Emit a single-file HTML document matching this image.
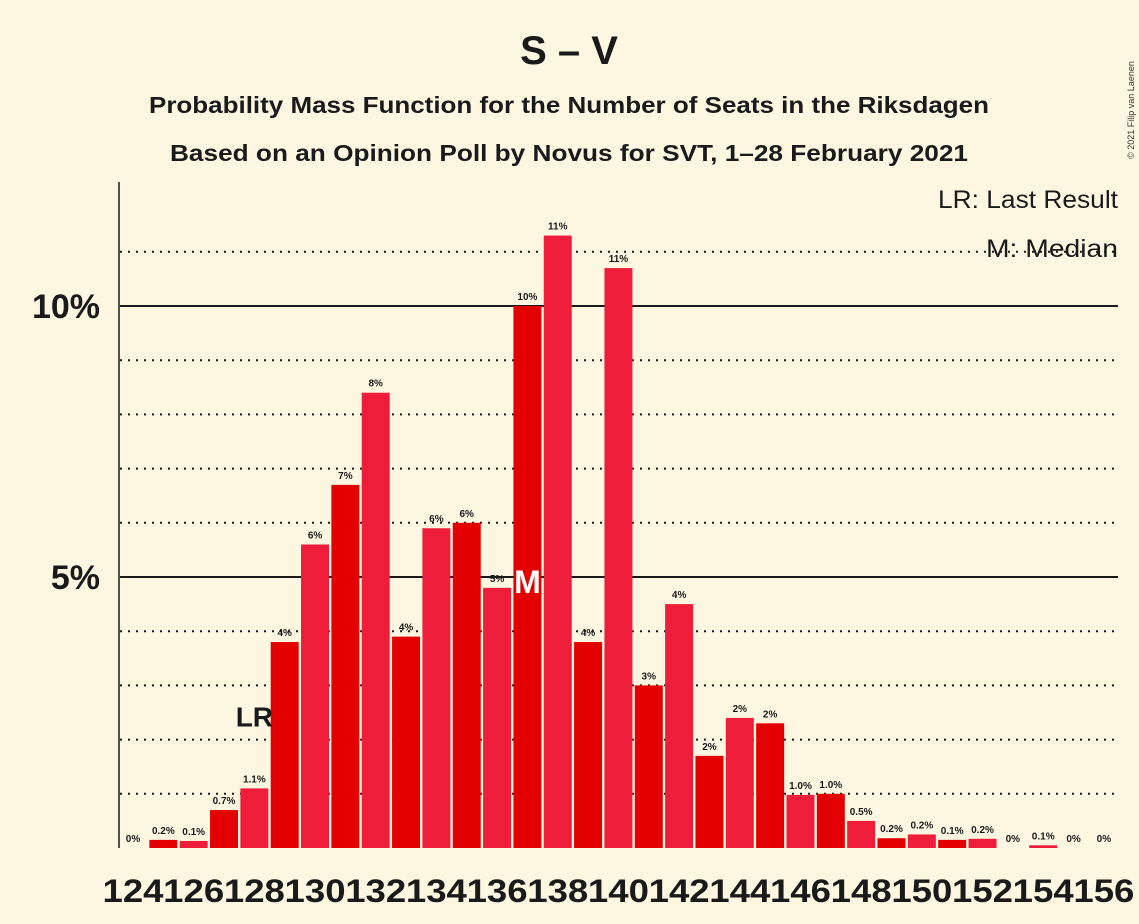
<!DOCTYPE html>
<html><head><meta charset="utf-8"><style>
body{margin:0;background:#fdf7e2;}
svg{display:block;font-family:"Liberation Sans",sans-serif;font-weight:bold;}
</style></head><body>
<svg width="1139" height="924" id="chart">
<rect width="1139" height="924" fill="#fdf7e2"/>
<text x="569" y="64" text-anchor="middle" font-size="40" fill="#1a1a1a">S – V</text>
<text x="569" y="113" text-anchor="middle" font-size="23" fill="#1a1a1a" textLength="840" lengthAdjust="spacingAndGlyphs">Probability Mass Function for the Number of Seats in the Riksdagen</text>
<text x="569" y="161" text-anchor="middle" font-size="23" fill="#1a1a1a" textLength="798" lengthAdjust="spacingAndGlyphs">Based on an Opinion Poll by Novus for SVT, 1–28 February 2021</text>
<text x="1118" y="208" text-anchor="end" font-size="25" font-weight="normal" fill="#1a1a1a" textLength="180" lengthAdjust="spacingAndGlyphs">LR: Last Result</text>
<text x="1118" y="257" text-anchor="end" font-size="25" font-weight="normal" fill="#1a1a1a" textLength="132" lengthAdjust="spacingAndGlyphs">M: Median</text>
<text x="1134" y="110" font-size="9" font-weight="normal" fill="#333" transform="rotate(-90 1134 110)" text-anchor="middle">© 2021 Filip van Laenen</text>
<g id="grid"></g><g id="bars"></g><g id="labels"></g>
<line x1="119" y1="182" x2="119" y2="848" stroke="#1a1a1a" stroke-width="1.5"/>
</svg>
<script>
const seats=[124,125,126,127,128,129,130,131,132,133,134,135,136,137,138,139,140,141,142,143,144,145,146,147,148,149,150,151,152,153,154,155,156];
const probs=[0,0.15,0.13,0.7,1.1,3.8,5.6,6.7,8.4,3.9,5.9,6.0,4.8,10.0,11.3,3.8,10.7,3.0,4.5,1.7,2.4,2.3,0.98,1.0,0.5,0.18,0.25,0.15,0.17,0,0.05,0,0];
const valueLabels=["0%","0.2%","0.1%","0.7%","1.1%","4%","6%","7%","8%","4%","6%","6%","5%","10%","11%","4%","11%","3%","4%","2%","2%","2%","1.0%","1.0%","0.5%","0.2%","0.2%","0.1%","0.2%","0%","0.1%","0%","0%"];
const yTicks=[5,10];
const lastResult=128, median=137;
const NS="http://www.w3.org/2000/svg";
const gG=document.getElementById('grid'),gB=document.getElementById('bars'),gL=document.getElementById('labels');
const y=v=>848-v*54.2;
const x=s=>133+(s-seats[0])*30.34;
function mk(tag,attrs,parent){const e=document.createElementNS(NS,tag);for(const k in attrs)e.setAttribute(k,attrs[k]);parent.appendChild(e);return e;}
for(let p=1;p<=11;p++){
  const solid=p%5===0;
  const l=mk('line',{x1:120,x2:1118,y1:y(p),y2:y(p),stroke:'#1a1a1a','stroke-width':2,'stroke-dasharray':solid?'':'2,6'},gG);
  
  
}
yTicks.forEach(t=>{
  const e=mk('text',{x:100,y:y(t)+12,'text-anchor':'end','font-size':34,fill:'#1a1a1a'},gL);
  e.textContent=t+'%';
  
  
});
seats.forEach((s,i)=>{
  const v=probs[i];
  if(v>0){
    const r=mk('rect',{x:x(s)-14,y:y(v),width:28,height:848-y(v),fill:s%2? '#e30000':'#ee1e3a'},gB);
    
    
  }
  const t=mk('text',{x:x(s),y:y(v)-6,'text-anchor':'middle','font-size':10,fill:'#1a1a1a'},gL);
  t.textContent=valueLabels[i];
  
  
  if(s%2===0){
    const xl=mk('text',{x:x(s),y:902,'text-anchor':'middle','font-size':32,fill:'#1a1a1a',textLength:61,lengthAdjust:'spacingAndGlyphs'},gL);
    xl.textContent=s;
    
    
  }
  if(s===lastResult){
    const lr=mk('text',{x:x(s),y:y(v)-62,'text-anchor':'middle','font-size':28,fill:'#1a1a1a'},gL);
    lr.textContent='LR';
    
    
  }
  if(s===median){
    const m=mk('text',{x:x(s),y:y(5)+16,'text-anchor':'middle','font-size':32,fill:'#fff'},gL);
    m.textContent='M';
    
    
  }
});
</script>
</body></html>
